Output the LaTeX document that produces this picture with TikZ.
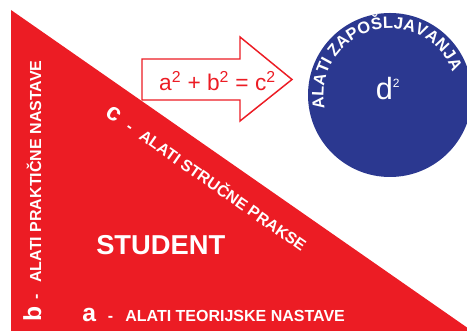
\documentclass[tikz,border=0pt]{standalone}
\usepackage{fontspec}
\setmainfont{Liberation Sans}
\usetikzlibrary{positioning, calc}
\definecolor{trired}{RGB}{236,28,36}
\definecolor{circblue}{RGB}{43,56,144}

\begin{document}
\begin{tikzpicture}[
    x=0.75pt, y=0.75pt,
    sidetext/.style={text=white, inner sep=0pt, font=\bfseries\fontsize{12}{14}\selectfont},
    arctext/.style={text=white, inner sep=0pt, anchor=base, font=\bfseries\fontsize{12.4}{14}\selectfont},
    arrowbox/.style={draw=trired, line width=1.1pt, fill=white, line join=miter}
]
    \useasboundingbox (0,0) rectangle (467,331);
    \clip (0,0) rectangle (467,331);

    % triangle and circle
    \fill[trired] (11,321) -- (11,0) -- (472,0) -- cycle;
    \fill[circblue] (390,236) circle[radius=82];
    \coordinate (centre) at (390,236);

    % arrow
    \draw[arrowbox] (142,272) -- (240,272) -- (240,294) -- (292,251.5) -- (240,210)
        -- (240,231) -- (142,231) -- cycle;
    \node[anchor=base, text=trired, inner sep=0pt, font=\fontsize{17}{20}\selectfont]
        (pythagoras) at (217.5,240) {a\textsuperscript{2} + b\textsuperscript{2} = c\textsuperscript{2}};

    % circle labels
    \node[anchor=base, text=white, inner sep=0pt, font=\fontsize{23}{24}\selectfont]
        (dsq) at (388,231) {d\textsuperscript{\small 2}};
    \foreach \ch/\pos [count=\i] in {A/5.78, L/16.44, A/27.11, T/37.77, I/44.89,
        Z/56.45, A/67.12, P/78.23, O/89.79, Š/101.35, L/111.57, J/120.91,
        A/131.14, V/142.25, A/153.36, N/164.91, J/175.13, A/185.36}
        \node[arctext, rotate={102-0.9*\pos}] (arcchar\i)
            at ($(centre)+({192-0.9*\pos}:66.5)$) {\ch};

    % triangle labels
    \node[sidetext, anchor=base west, font=\bfseries\fontsize{20.5}{22}\selectfont]
        (student) at (96,76) {STUDENT};
    \node[sidetext, anchor=base west] (sidea) at (82,9)
        {{\fontsize{18.5}{18}\selectfont a}\hspace{9pt}-\hspace{9pt}ALATI TEORIJSKE NASTAVE};
    \node[sidetext, anchor=base west, rotate=90] (sideb) at (41,9)
        {{\fontsize{18.5}{18}\selectfont b}\hspace{5pt}-\hspace{9pt}ALATI PRAKTIČNE NASTAVE};
    \node[sidetext, anchor=base west, rotate=-34.9] (sidec) at (104.7,215.9)
        {{\fontsize{18.5}{18}\selectfont c}\hspace{8pt}-\hspace{8pt}ALATI STRUČNE PRAKSE};
\end{tikzpicture}
\end{document}
